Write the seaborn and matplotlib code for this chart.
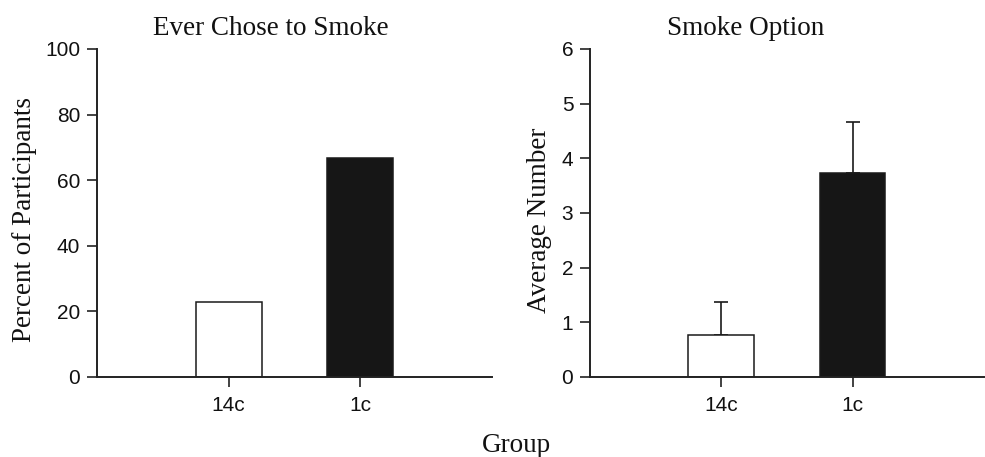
import matplotlib
matplotlib.use("Agg")
import matplotlib.pyplot as plt
import seaborn as sns
import pandas as pd
import numpy as np

# Data
groups = ["14c", "1c"]
pct_ever_smoked = [23.0, 66.7]
avg_smoke_choices = [0.77, 3.73]
avg_smoke_sem = [0.61, 0.93]

bar_colors = ["#ffffff", "#161616"]
edge_color = "#1a1a1a"

sns.set_style("ticks")
plt.rcParams["font.family"] = ["Liberation Sans", "DejaVu Sans"]
plt.rcParams["axes.linewidth"] = 1.4

W, H = 985, 457
fig = plt.figure(figsize=(W / 100, H / 100), dpi=100)

def px_axes(x0, x1, y0, y1):
    return fig.add_axes([x0 / W, 1 - y1 / H, (x1 - x0) / W, (y1 - y0) / H])

ax1 = px_axes(97, 492, 49, 377)
ax2 = px_axes(590, 984, 49, 377)

df1 = pd.DataFrame({"Group": groups, "value": pct_ever_smoked})
df2 = pd.DataFrame({"Group": groups, "value": avg_smoke_choices, "sem": avg_smoke_sem})

for ax, df in ((ax1, df1), (ax2, df2)):
    sns.barplot(data=df, x="Group", y="value", hue="Group", palette=bar_colors,
                order=groups, hue_order=groups, width=0.5, edgecolor=edge_color,
                linewidth=1.1, legend=False, errorbar=None, ax=ax, zorder=2)

# upward-only error bars on the average-number panel
xpos = np.arange(len(groups))
ax2.errorbar(xpos, df2["value"], yerr=[np.zeros(len(groups)), df2["sem"]],
             fmt="none", ecolor=edge_color, elinewidth=1.2, capsize=5,
             capthick=1.2, zorder=1)

ax1.set_ylim(0, 100)
ax1.set_yticks([0, 20, 40, 60, 80, 100])
ax2.set_ylim(0, 6)
ax2.set_yticks([0, 1, 2, 3, 4, 5, 6])

for ax in (ax1, ax2):
    ax.set_xlim(-1, 2)
    sns.despine(ax=ax)
    ax.set_xlabel("")
    ax.set_ylabel("")
    ax.spines["left"].set_color("#222222")
    ax.spines["bottom"].set_color("#222222")
    ax.tick_params(axis="both", length=7, width=1.2, color="#222222",
                   labelsize=15, labelcolor="#111111")
    ax.tick_params(axis="x", pad=7)
    ax.tick_params(axis="y", pad=5)

serif = ["Liberation Serif", "DejaVu Serif"]
tsize = 19.5
fig.text(271 / W, 1 - 35 / H, "Ever Chose to Smoke", ha="center", va="baseline",
         family=serif, fontsize=tsize, color="#111111")
fig.text(745.5 / W, 1 - 35 / H, "Smoke Option", ha="center", va="baseline",
         family=serif, fontsize=tsize, color="#111111")
fig.text(24.5 / W, 1 - 220 / H, "Percent of Participants", ha="center", va="center",
         rotation=90, family=serif, fontsize=tsize, color="#111111")
fig.text(540 / W, 1 - 220 / H, "Average Number", ha="center", va="center",
         rotation=90, family=serif, fontsize=tsize, color="#111111")
fig.text(516 / W, 1 - 451.5 / H, "Group", ha="center", va="baseline",
         family=serif, fontsize=tsize, color="#111111")

fig.savefig("out.png", dpi=100)
